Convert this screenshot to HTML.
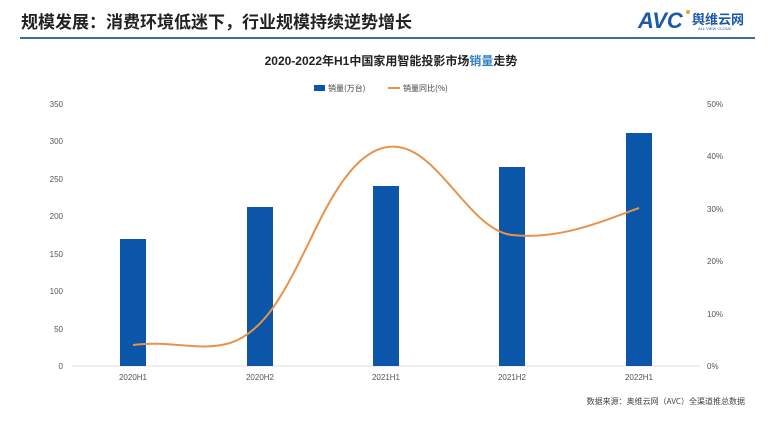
<!DOCTYPE html>
<html><head><meta charset="utf-8"><style>
html,body{margin:0;padding:0;background:#fff;}
body{width:783px;height:426px;overflow:hidden;position:relative;font-family:"Liberation Sans","Noto Sans CJK SC",sans-serif;}
</style></head><body>
<svg width="783" height="426" xmlns="http://www.w3.org/2000/svg" style="position:absolute;left:0;top:0">
<text x="21" y="28" font-size="17" font-weight="bold" fill="#222" font-family="Liberation Sans,Noto Sans CJK SC,sans-serif">规模发展：消费环境低迷下，行业规模持续逆势增长</text>
<text x="638" y="28" font-size="22" font-weight="bold" fill="#1a5aa6" font-style="italic" font-family="Liberation Sans,sans-serif">AVC</text>
<circle cx="688" cy="12" r="2" fill="#e8a030"/>
<text x="692" y="24" font-size="13" font-weight="bold" fill="#1a5aa6" font-family="Noto Sans CJK SC,sans-serif">舆维云网</text>
<text x="698" y="30" font-size="4" fill="#1a5aa6" font-family="Liberation Sans,sans-serif">ALL VIEW CLOUD</text>
<rect x="20" y="37" width="735" height="2" fill="#3d6e9c"/>
<text x="391" y="65" font-size="12" font-weight="bold" fill="#222" text-anchor="middle" font-family="Liberation Sans,Noto Sans CJK SC,sans-serif">2020-2022年H1中国家用智能投影市场<tspan fill="#2e7fc4">销量</tspan>走势</text>
<rect x="314" y="85" width="11" height="6" fill="#0b56a8"/>
<text x="328" y="91" font-size="8" fill="#444" font-family="Noto Sans CJK SC,sans-serif">销量(万台)</text>
<rect x="388" y="87" width="12" height="2" fill="#e8924a"/>
<text x="403" y="91" font-size="8" fill="#444" font-family="Noto Sans CJK SC,sans-serif">销量同比(%)</text>
<g font-size="8" fill="#555" font-family="Liberation Sans,sans-serif">
<text x="63" y="107" text-anchor="end">350</text>
<text x="63" y="144" text-anchor="end">300</text>
<text x="63" y="182" text-anchor="end">250</text>
<text x="63" y="219" text-anchor="end">200</text>
<text x="63" y="257" text-anchor="end">150</text>
<text x="63" y="294" text-anchor="end">100</text>
<text x="63" y="332" text-anchor="end">50</text>
<text x="63" y="369" text-anchor="end">0</text>
<text x="707" y="107">50%</text>
<text x="707" y="159">40%</text>
<text x="707" y="212">30%</text>
<text x="707" y="264">20%</text>
<text x="707" y="317">10%</text>
<text x="707" y="369">0%</text>
<text x="133" y="380" text-anchor="middle">2020H1</text>
<text x="260" y="380" text-anchor="middle">2020H2</text>
<text x="386" y="380" text-anchor="middle">2021H1</text>
<text x="512" y="380" text-anchor="middle">2021H2</text>
<text x="639" y="380" text-anchor="middle">2022H1</text>
</g>
<line x1="72" y1="366" x2="700" y2="366" stroke="#ddd" stroke-width="1"/>
<g fill="#0b56a8">
<rect x="120" y="239" width="26" height="127"/>
<rect x="247" y="207" width="26" height="159"/>
<rect x="373" y="186" width="26" height="180"/>
<rect x="499" y="167" width="26" height="199"/>
<rect x="626" y="133" width="26" height="233"/>
</g>
<path d="M133,345 C170,340 200,352 230,343 C270,330 290,280 320,220 C345,170 370,143 398,147 C440,152 470,230 512,235 C560,240 600,222 639,208" fill="none" stroke="#e8924a" stroke-width="2"/>
<text x="745" y="404" font-size="8" fill="#444" text-anchor="end" font-family="Noto Sans CJK SC,sans-serif">数据来源：奥维云网（AVC）全渠道推总数据</text>
</svg>
</body></html>
